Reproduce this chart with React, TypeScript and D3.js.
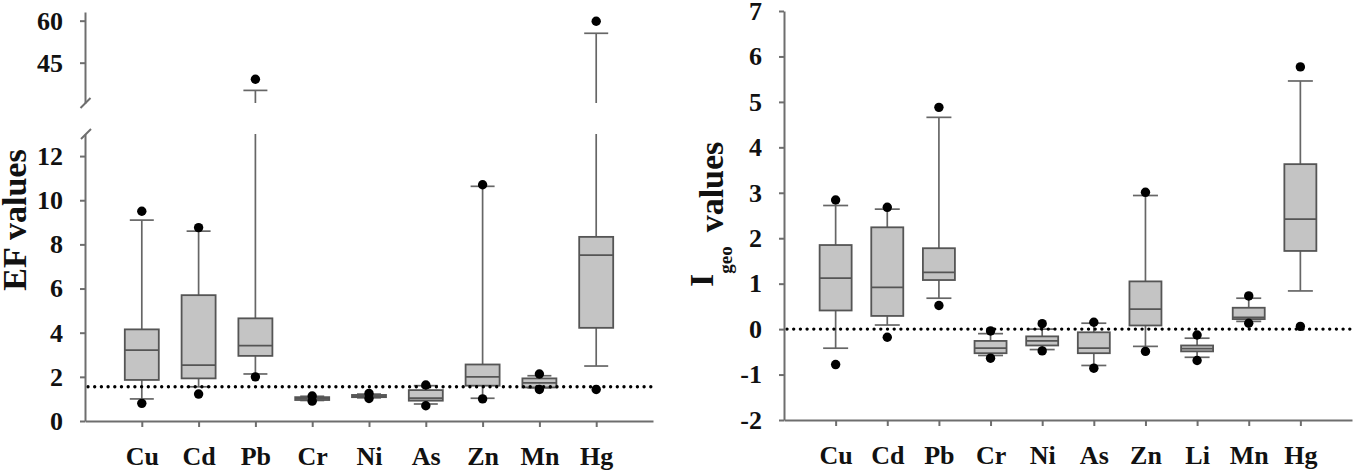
import React, { useEffect, useRef } from "react";
import * as d3 from "d3";

// EF panel (left)
const efCats = ["Cu", "Cd", "Pb", "Cr", "Ni", "As", "Zn", "Mn", "Hg"];
const efLow = [1.0, 1.55, 2.13, 0.93, 1.05, 0.77, 1.03, 1.5, 2.49];
const efQ1 = [1.86, 1.93, 2.95, 0.95, 1.08, 0.92, 1.6, 1.52, 4.22];
const efMed = [3.21, 2.53, 3.41, 1.02, 1.12, 1.03, 2.0, 1.73, 7.51];
const efQ3 = [4.15, 5.7, 4.65, 1.08, 1.18, 1.4, 2.56, 1.93, 8.34];
const efHigh = [9.1, 8.6, 35.1, 1.12, 1.22, 1.6, 10.63, 2.05, 55.5];
const efOutLow = [0.8, 1.22, 2.0, 0.9, 1.02, 0.69, 1.0, 1.43, 1.43];
const efOutHigh = [9.5, 8.76, 39.1, 1.13, 1.25, 1.63, 10.7, 2.13, 59.8];
const efLowerTicks = [0, 2, 4, 6, 8, 10, 12];
const efUpperTicks = [45, 60];
const efRef = 1.55;

// Igeo panel (right)
const igCats = ["Cu", "Cd", "Pb", "Cr", "Ni", "As", "Zn", "Li", "Mn", "Hg"];
const igLow = [-0.42, 0.09, 0.68, -0.58, -0.45, -0.8, -0.38, -0.62, 0.17, 0.84];
const igQ1 = [0.41, 0.29, 1.08, -0.53, -0.36, -0.53, 0.08, -0.49, 0.22, 1.72];
const igMed = [1.12, 0.92, 1.25, -0.42, -0.26, -0.42, 0.44, -0.43, 0.26, 2.42];
const igQ3 = [1.85, 2.24, 1.78, -0.26, -0.16, -0.07, 1.05, -0.36, 0.47, 3.63];
const igHigh = [2.72, 2.64, 4.66, -0.1, 0.0, 0.13, 2.94, -0.2, 0.68, 5.46];
const igOutLow = [-0.78, -0.18, 0.52, -0.64, -0.48, -0.86, -0.49, -0.69, 0.13, 0.06];
const igOutHigh = [2.84, 2.68, 4.88, -0.04, 0.12, 0.15, 3.01, -0.13, 0.73, 5.77];
const igTicks = [-2, -1, 0, 1, 2, 3, 4, 5, 6, 7];
const igRef = 0;

const FONT = "'Times New Roman', Times, Tinos, 'Liberation Serif', 'Nimbus Roman', FreeSerif, serif";
const AXIS = "#6e6e6e";

type Row = { cat: string; lo: number; q1: number; med: number; q3: number; hi: number; oLo: number; oHi: number };

const rows = (cats, lo, q1, med, q3, hi, oLo, oHi): Row[] =>
    cats.map((c, i) => ({ cat: c, lo: lo[i], q1: q1[i], med: med[i], q3: q3[i], hi: hi[i], oLo: oLo[i], oHi: oHi[i] }));

function drawBoxes(g, data: Row[], x, y, boxW, capW) {
    const item = g.selectAll(".box").data(data).enter().append("g")
        .attr("class", "box")
        .attr("transform", d => `translate(${x(d.cat)},0)`);

    // whiskers
    item.append("line").attr("y1", d => y(d.q3)).attr("y2", d => y(d.hi));
    item.append("line").attr("y1", d => y(d.q1)).attr("y2", d => y(d.lo));
    item.append("line").attr("x1", -capW / 2).attr("x2", capW / 2).attr("y1", d => y(d.hi)).attr("y2", d => y(d.hi));
    item.append("line").attr("x1", -capW / 2).attr("x2", capW / 2).attr("y1", d => y(d.lo)).attr("y2", d => y(d.lo));
    item.selectAll("line").attr("stroke", "#666").attr("stroke-width", 1.7);

    item.append("rect")
        .attr("x", -boxW / 2).attr("width", boxW)
        .attr("y", d => y(d.q3)).attr("height", d => y(d.q1) - y(d.q3))
        .attr("fill", "#c4c4c4").attr("stroke", "#555").attr("stroke-width", 1.8);

    item.append("line")
        .attr("x1", -boxW / 2).attr("x2", boxW / 2)
        .attr("y1", d => y(d.med)).attr("y2", d => y(d.med))
        .attr("stroke", "#555").attr("stroke-width", 1.8);
}

function drawOutliers(g, data: Row[], x, y) {
    const pts = data.flatMap(d => [{ cat: d.cat, v: d.oLo }, { cat: d.cat, v: d.oHi }]);
    g.selectAll(".out").data(pts).enter().append("circle")
        .attr("class", "out")
        .attr("cx", d => x(d.cat)).attr("cy", d => y(d.v))
        .attr("r", 4.7).attr("fill", "#000");
}

function refLine(g, x0, x1, yv) {
    g.append("line")
        .attr("x1", x0).attr("x2", x1).attr("y1", yv).attr("y2", yv)
        .attr("stroke", "#000").attr("stroke-width", 3.4)
        .attr("stroke-linecap", "round").attr("stroke-dasharray", "0 6.7");
}

function styleAxis(a) {
    a.attr("font-family", null);
    a.select(".domain").attr("stroke", AXIS).attr("stroke-width", 2);
    a.selectAll(".tick line").attr("stroke", AXIS).attr("stroke-width", 2);
    a.selectAll("text")
        .attr("fill", "#111")
        .style("font-family", FONT)
        .style("font-weight", "bold").style("font-size", "26px");
}

function App() {
    const svgRef = useRef(null);

    useEffect(() => {
        const svg = d3.select(svgRef.current);
        svg.selectAll("*").remove();

        // ---------- left: EF values with broken axis ----------
        const efData = rows(efCats, efLow, efQ1, efMed, efQ3, efHigh, efOutLow, efOutHigh);
        const xL = d3.scalePoint().domain(efCats).range([85, 653]).padding(1);
        const yLow = d3.scaleLinear().domain([0, 13]).range([421, 134]);
        const yUp = d3.scaleLinear().domain([30.6, 63.1]).range([103, 12]);

        const defs = svg.append("defs");
        defs.append("clipPath").attr("id", "clipUp")
            .append("rect").attr("x", 86).attr("y", 0).attr("width", 600).attr("height", 103);
        defs.append("clipPath").attr("id", "clipLow")
            .append("rect").attr("x", 86).attr("y", 134).attr("width", 600).attr("height", 340);

        const low = svg.append("g").attr("clip-path", "url(#clipLow)");
        drawBoxes(low, efData, xL, yLow, 34, 24);
        refLine(low, 88, 653, yLow(efRef));
        drawOutliers(low, efData, xL, yLow);

        const up = svg.append("g").attr("clip-path", "url(#clipUp)");
        drawBoxes(up, efData, xL, yUp, 34, 24);
        drawOutliers(up, efData, xL, yUp);

        const axLow = svg.append("g").attr("transform", "translate(85,0)")
            .call(d3.axisLeft(yLow).tickValues(efLowerTicks).tickSize(5).tickSizeOuter(0).tickPadding(17));
        styleAxis(axLow);
        const axUp = svg.append("g").attr("transform", "translate(85,0)")
            .call(d3.axisLeft(yUp).tickValues(efUpperTicks).tickSize(5).tickSizeOuter(0).tickPadding(17));
        styleAxis(axUp);

        // break marks
        [[85.5, 103], [86, 134]].forEach(([bx, by]) => {
            svg.append("line")
                .attr("x1", bx - 5).attr("y1", by + 5).attr("x2", bx + 5).attr("y2", by - 5)
                .attr("stroke", AXIS).attr("stroke-width", 2);
        });

        const axXL = svg.append("g").attr("transform", "translate(0,421)")
            .call(d3.axisBottom(xL).tickSize(6).tickSizeOuter(0).tickPadding(19.5));
        styleAxis(axXL);

        svg.append("text")
            .attr("transform", "translate(26,220) rotate(-90)")
            .attr("text-anchor", "middle")
            .style("font-family", FONT).style("font-weight", "bold").style("font-size", "34px")
            .attr("fill", "#111")
            .text("EF values");

        // ---------- right: Igeo values ----------
        const igData = rows(igCats, igLow, igQ1, igMed, igQ3, igHigh, igOutLow, igOutHigh);
        const xR = d3.scalePoint().domain(igCats).range([784, 1352]).padding(1);
        const yR = d3.scaleLinear().domain([-2, 7]).range([420, 11]);

        const right = svg.append("g");
        drawBoxes(right, igData, xR, yR, 32, 25);
        refLine(right, 787, 1354, yR(igRef));
        drawOutliers(right, igData, xR, yR);

        const axR = svg.append("g").attr("transform", "translate(784,0)")
            .call(d3.axisLeft(yR).tickValues(igTicks).tickFormat(d => String(d)).tickSize(5).tickSizeOuter(0).tickPadding(17));
        styleAxis(axR);

        const axXR = svg.append("g").attr("transform", "translate(0,420)")
            .call(d3.axisBottom(xR).tickSize(6).tickSizeOuter(0).tickPadding(19.5));
        styleAxis(axXR);

        const t = svg.append("text")
            .attr("transform", "translate(713,287) rotate(-90)")
            .style("font-family", FONT).style("font-weight", "bold")
            .attr("fill", "#111");
        t.append("tspan").style("font-size", "34px").text("I");
        t.append("tspan").style("font-size", "19px").attr("dy", 19).text("geo");
        t.append("tspan").style("font-size", "34px").attr("dy", -9).attr("dx", 14).text("values");
    }, []);

    return (
        <svg ref={svgRef} width={1362} height={474}
            style={{ position: "absolute", left: 0, top: 0, background: "#fff", fontFamily: FONT }} />
    );
}

export default App;
